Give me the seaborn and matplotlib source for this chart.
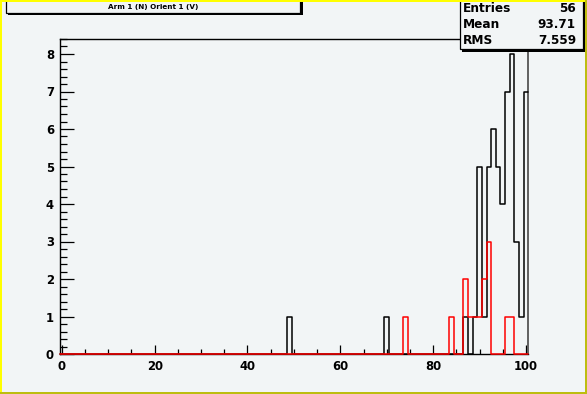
import numpy as np
import pandas as pd
import matplotlib
matplotlib.use("Agg")
import matplotlib.pyplot as plt
import seaborn as sns
from matplotlib.patches import Rectangle

# ---- data (bin centre -> count) ----
black_bins = [49, 70, 87, 89, 90, 91, 92, 93, 94, 95, 96, 97, 98, 99, 100]
black_counts = [1, 1, 1, 1, 5, 1, 5, 6, 5, 4, 7, 8, 3, 1, 7]
red_bins = [74, 84, 87, 88, 89, 90, 91, 92, 96, 97]
red_counts = [1, 1, 2, 1, 1, 1, 2, 3, 1, 1]
title_text = "Arm 1 (N) Orient 1 (V)"
stats_labels = ["Entries", "Mean", "RMS"]
stats_values = ["56", "93.71", "7.559"]
x_ticks = [0, 20, 40, 60, 80, 100]
y_ticks = [0, 1, 2, 3, 4, 5, 6, 7, 8]

sns.set_style("white")
plt.rcParams["font.family"] = ["DejaVu Sans"]
plt.rcParams["text.color"] = "black"

bg = "#f2f5f6"
W, H = 587, 394
fig = plt.figure(figsize=(W / 100, H / 100), dpi=100)
fig.patch.set_facecolor(bg)

ax_l, ax_r, ax_t, ax_b = 59.5, 528.3, 39.0, 354.0
ax = fig.add_axes([ax_l / W, (H - ax_b) / H, (ax_r - ax_l) / W, (ax_b - ax_t) / H])
ax.set_facecolor(bg)

edges = [e - 0.5 for e in range(0, 102)]
dfb = pd.DataFrame({"x": black_bins, "w": black_counts})
dfr = pd.DataFrame({"x": red_bins, "w": red_counts})
sns.histplot(data=dfb, x="x", weights="w", bins=edges, element="step", fill=False,
             color="black", linewidth=1.1, ax=ax, zorder=3)
sns.histplot(data=dfr, x="x", weights="w", bins=edges, element="step", fill=False,
             color="#ff0000", linewidth=1.1, ax=ax, zorder=4)
for ln in ax.lines:
    ln.set_clip_on(False)

ax.set_xlim(-0.5, 100.5)
ax.set_ylim(0, 8.4)
ax.set_xlabel("")
ax.set_ylabel("")
ax.set_xticks(x_ticks)
ax.set_xticklabels([str(v) for v in x_ticks])
ax.set_xticks(np.arange(0, 101, 5), minor=True)
ax.set_yticks(y_ticks)
ax.set_yticklabels([str(v) for v in y_ticks])
ax.set_yticks(np.arange(0, 8.41, 0.2), minor=True)
ax.tick_params(axis="x", which="major", direction="in", length=6.2, width=0.9,
               pad=4.3, labelsize=8.4, bottom=True, top=False, colors="black")
ax.tick_params(axis="x", which="minor", direction="in", length=3.3, width=0.9,
               bottom=True, top=False, colors="black")
ax.tick_params(axis="y", which="major", direction="in", length=10, width=0.9,
               pad=4.0, labelsize=8.4, left=True, right=False, colors="black")
ax.tick_params(axis="y", which="minor", direction="in", length=5, width=0.9,
               left=True, right=False, colors="black")
for lab in ax.get_xticklabels() + ax.get_yticklabels():
    lab.set_fontweight("bold")
for s in ["left", "bottom", "top"]:
    ax.spines[s].set_color("black")
    ax.spines[s].set_linewidth(1.0)
ax.spines["right"].set_color("#555555")
ax.spines["right"].set_linewidth(1.3)


def frect(x0, y0, x1, y1, **kw):
    # pixel coords from top-left
    r = Rectangle((x0 / W, 1 - y1 / H), (x1 - x0) / W, (y1 - y0) / H,
                  transform=fig.transFigure, **kw)
    fig.add_artist(r)
    return r

# title box with shadow
frect(8, 2, 302.5, 14.5, facecolor="black", edgecolor="none", zorder=5)
frect(6, -2, 300, 12.5, facecolor=bg, edgecolor="black", linewidth=0.9, zorder=6)
fig.text(153 / W, 1 - 6.6 / H, title_text, ha="center", va="center",
         fontsize=5.2, fontweight="bold", color="black", zorder=7)

# stats box with shadow
frect(462, 2, 585.5, 51.5, facecolor="black", edgecolor="none", zorder=5)
frect(460, -2, 583, 49.3, facecolor=bg, edgecolor="black", linewidth=0.9, zorder=6)
rows_y = [8.3, 24.3, 40.3]
for lab, val, yy in zip(stats_labels, stats_values, rows_y):
    fig.text(462.5 / W, 1 - yy / H, lab, ha="left", va="center",
             fontsize=8.7, fontweight="bold", color="black", zorder=7)
    fig.text(576 / W, 1 - yy / H, val, ha="right", va="center",
             fontsize=8.7, fontweight="bold", color="black", zorder=7)

# canvas border (ROOT bevel)
frect(0, 0, W, 1.6, facecolor="#ffff00", edgecolor="none", zorder=8)
frect(0, 0, 2, H, facecolor="#ffff00", edgecolor="none", zorder=8)
frect(0, H - 2.2, W, H, facecolor="#bdbd10", edgecolor="none", zorder=8)
frect(W - 1.6, 0, W, H, facecolor="#bdbd10", edgecolor="none", zorder=8)

fig.savefig("out.png", dpi=100, facecolor=bg)
